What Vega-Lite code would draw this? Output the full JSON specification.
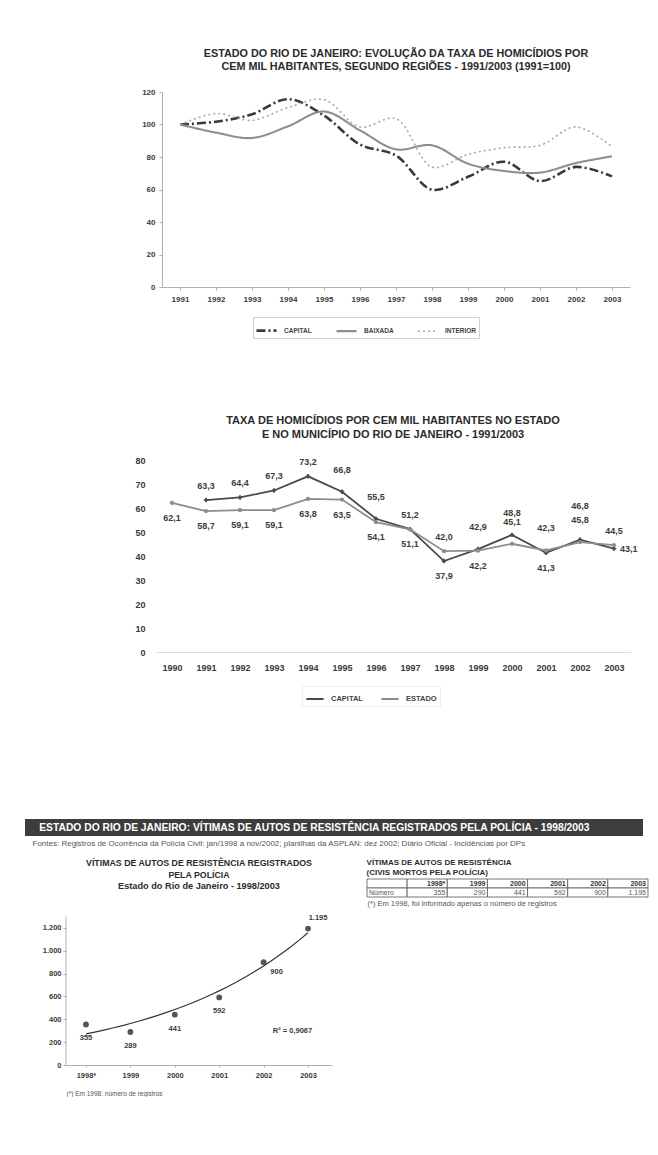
{
  "$schema": "https://vega.github.io/schema/vega-lite/v6.json",
  "padding": {"left": 25, "top": 48, "right": 0, "bottom": 0},
  "background": "white",
  "config": {
    "font": "Liberation Sans",
    "view": {"stroke": null},
    "locale": {"number": {"decimal": ",", "thousands": ".", "grouping": [3], "currency": ["R$", ""]}},
    "axis": {"labelFontWeight": "bold", "labelColor": "#3a3a3a", "grid": false, "domainColor": "#b0b0b0", "tickColor": "#b0b0b0", "titleFontWeight": "normal"},
    "title": {"fontWeight": "bold", "color": "#2b2b2b"}
  },
  "datasets": {
    "regioes": [
      {"regiao": "CAPITAL", "ano": 1991, "indice": 100},
      {"regiao": "CAPITAL", "ano": 1992, "indice": 101.7},
      {"regiao": "CAPITAL", "ano": 1993, "indice": 106.3},
      {"regiao": "CAPITAL", "ano": 1994, "indice": 115.6},
      {"regiao": "CAPITAL", "ano": 1995, "indice": 105.5},
      {"regiao": "CAPITAL", "ano": 1996, "indice": 87.7},
      {"regiao": "CAPITAL", "ano": 1997, "indice": 80.9},
      {"regiao": "CAPITAL", "ano": 1998, "indice": 59.9},
      {"regiao": "CAPITAL", "ano": 1999, "indice": 67.8},
      {"regiao": "CAPITAL", "ano": 2000, "indice": 77.1},
      {"regiao": "CAPITAL", "ano": 2001, "indice": 65.2},
      {"regiao": "CAPITAL", "ano": 2002, "indice": 73.9},
      {"regiao": "CAPITAL", "ano": 2003, "indice": 68.1},
      {"regiao": "BAIXADA", "ano": 1991, "indice": 100},
      {"regiao": "BAIXADA", "ano": 1992, "indice": 95},
      {"regiao": "BAIXADA", "ano": 1993, "indice": 91.7},
      {"regiao": "BAIXADA", "ano": 1994, "indice": 98.9},
      {"regiao": "BAIXADA", "ano": 1995, "indice": 108},
      {"regiao": "BAIXADA", "ano": 1996, "indice": 96.4},
      {"regiao": "BAIXADA", "ano": 1997, "indice": 84.7},
      {"regiao": "BAIXADA", "ano": 1998, "indice": 87.2},
      {"regiao": "BAIXADA", "ano": 1999, "indice": 75.9},
      {"regiao": "BAIXADA", "ano": 2000, "indice": 71.4},
      {"regiao": "BAIXADA", "ano": 2001, "indice": 70.4},
      {"regiao": "BAIXADA", "ano": 2002, "indice": 76.3},
      {"regiao": "BAIXADA", "ano": 2003, "indice": 80.4},
      {"regiao": "INTERIOR", "ano": 1991, "indice": 100},
      {"regiao": "INTERIOR", "ano": 1992, "indice": 106.7},
      {"regiao": "INTERIOR", "ano": 1993, "indice": 102.6},
      {"regiao": "INTERIOR", "ano": 1994, "indice": 110.4},
      {"regiao": "INTERIOR", "ano": 1995, "indice": 115.3},
      {"regiao": "INTERIOR", "ano": 1996, "indice": 98.5},
      {"regiao": "INTERIOR", "ano": 1997, "indice": 103.6},
      {"regiao": "INTERIOR", "ano": 1998, "indice": 73.8},
      {"regiao": "INTERIOR", "ano": 1999, "indice": 81.6},
      {"regiao": "INTERIOR", "ano": 2000, "indice": 85.7},
      {"regiao": "INTERIOR", "ano": 2001, "indice": 87.2},
      {"regiao": "INTERIOR", "ano": 2002, "indice": 98.5},
      {"regiao": "INTERIOR", "ano": 2003, "indice": 86.2}
    ],
    "taxas": [
      {"serie": "CAPITAL", "ano": 1991, "taxa": 63.3},
      {"serie": "CAPITAL", "ano": 1992, "taxa": 64.4},
      {"serie": "CAPITAL", "ano": 1993, "taxa": 67.3},
      {"serie": "CAPITAL", "ano": 1994, "taxa": 73.2},
      {"serie": "CAPITAL", "ano": 1995, "taxa": 66.8},
      {"serie": "CAPITAL", "ano": 1996, "taxa": 55.5},
      {"serie": "CAPITAL", "ano": 1997, "taxa": 51.2},
      {"serie": "CAPITAL", "ano": 1998, "taxa": 37.9},
      {"serie": "CAPITAL", "ano": 1999, "taxa": 42.9},
      {"serie": "CAPITAL", "ano": 2000, "taxa": 48.8},
      {"serie": "CAPITAL", "ano": 2001, "taxa": 41.3},
      {"serie": "CAPITAL", "ano": 2002, "taxa": 46.8},
      {"serie": "CAPITAL", "ano": 2003, "taxa": 43.1},
      {"serie": "ESTADO", "ano": 1990, "taxa": 62.1},
      {"serie": "ESTADO", "ano": 1991, "taxa": 58.7},
      {"serie": "ESTADO", "ano": 1992, "taxa": 59.1},
      {"serie": "ESTADO", "ano": 1993, "taxa": 59.1},
      {"serie": "ESTADO", "ano": 1994, "taxa": 63.8},
      {"serie": "ESTADO", "ano": 1995, "taxa": 63.5},
      {"serie": "ESTADO", "ano": 1996, "taxa": 54.1},
      {"serie": "ESTADO", "ano": 1997, "taxa": 51.1},
      {"serie": "ESTADO", "ano": 1998, "taxa": 42.0},
      {"serie": "ESTADO", "ano": 1999, "taxa": 42.2},
      {"serie": "ESTADO", "ano": 2000, "taxa": 45.1},
      {"serie": "ESTADO", "ano": 2001, "taxa": 42.3},
      {"serie": "ESTADO", "ano": 2002, "taxa": 45.8},
      {"serie": "ESTADO", "ano": 2003, "taxa": 44.5}
    ],
    "autos": [
      {"ano": 1998, "vitimas": 355},
      {"ano": 1999, "vitimas": 289},
      {"ano": 2000, "vitimas": 441},
      {"ano": 2001, "vitimas": 592},
      {"ano": 2002, "vitimas": 900},
      {"ano": 2003, "vitimas": 1195}
    ],
    "tabela": [
      {"coluna": "rotulo", "cabecalho": "", "valor": "Número"},
      {"coluna": "1998*", "cabecalho": "1998*", "valor": "355"},
      {"coluna": "1999", "cabecalho": "1999", "valor": "290"},
      {"coluna": "2000", "cabecalho": "2000", "valor": "441"},
      {"coluna": "2001", "cabecalho": "2001", "valor": "592"},
      {"coluna": "2002", "cabecalho": "2002", "valor": "900"},
      {"coluna": "2003", "cabecalho": "2003", "valor": "1.195"}
    ],
    "vazio": [{"espaco": 1}]
  },
  "resolve": {"scale": {"color": "independent", "strokeDash": "independent", "strokeWidth": "independent"}, "legend": {"color": "independent", "strokeDash": "independent", "strokeWidth": "independent"}},
  "spacing": 112,
  "vconcat": [
    {
      "spacing": 76,
      "resolve": {"scale": {"color": "independent", "strokeDash": "independent", "strokeWidth": "independent"}, "legend": {"color": "independent", "strokeDash": "independent", "strokeWidth": "independent"}},
      "vconcat": [
        {
          "spacing": 0,
          "resolve": {"scale": {"color": "independent", "strokeDash": "independent", "strokeWidth": "independent"}, "legend": {"color": "independent", "strokeDash": "independent", "strokeWidth": "independent"}},
          "hconcat": [
            {
              "width": 1, "height": 1,
              "data": {"name": "vazio"},
              "mark": {"type": "rect", "opacity": 0},
              "encoding": {
                "x": {"datum": 0, "type": "quantitative", "scale": {"domain": [0, 1]}, "axis": null},
                "x2": {"datum": 1},
                "y": {"datum": 0, "type": "quantitative", "scale": {"domain": [0, 1]}, "axis": null},
                "y2": {"datum": 1}
              }
            },
            {
              "width": 468,
              "height": 195,
              "title": {"text": ["ESTADO DO RIO DE JANEIRO: EVOLUÇÃO DA TAXA DE HOMICÍDIOS POR", "CEM MIL HABITANTES, SEGUNDO REGIÕES - 1991/2003 (1991=100)"], "fontSize": 10.8, "lineHeight": 13, "offset": 16, "anchor": "middle"},
              "data": {"name": "regioes"},
              "mark": {"type": "line", "interpolate": "catmull-rom"},
              "encoding": {
                "x": {"field": "ano", "type": "ordinal", "scale": {"type": "point", "padding": 0.5}, "axis": {"title": null, "labelAngle": 0, "labelFontSize": 8, "labelPadding": 5, "tickSize": 3}},
                "y": {"field": "indice", "type": "quantitative", "scale": {"domain": [0, 120], "nice": false}, "axis": {"title": null, "values": [0, 20, 40, 60, 80, 100, 120], "labelFontSize": 8, "tickSize": 3, "labelPadding": 4, "minExtent": 136}},
                "color": {"field": "regiao", "type": "nominal", "scale": {"domain": ["CAPITAL", "BAIXADA", "INTERIOR"], "range": ["#3a3a3a", "#8e8e8e", "#a8a8a8"]},
                  "legend": {"orient": "none", "legendX": 91, "legendY": 225, "direction": "horizontal", "title": null, "strokeColor": "#d0d0d0", "padding": 2, "labelFontSize": 6.5, "labelFontWeight": "bold", "labelColor": "#444", "symbolType": "stroke", "symbolSize": 400, "columnPadding": 20, "labelOffset": 6}},
                "strokeDash": {"field": "regiao", "type": "nominal", "scale": {"domain": ["CAPITAL", "BAIXADA", "INTERIOR"], "range": [[9, 3, 2, 3], [1, 0], [2, 3]]}},
                "strokeWidth": {"field": "regiao", "type": "nominal", "scale": {"domain": ["CAPITAL", "BAIXADA", "INTERIOR"], "range": [2.6, 1.6, 1.3]}}
              }
            }
          ]
        },
        {
          "spacing": 0,
          "resolve": {"scale": {"color": "independent"}, "legend": {"color": "independent"}},
          "hconcat": [
            {
              "width": 1, "height": 1,
              "data": {"name": "vazio"},
              "mark": {"type": "rect", "opacity": 0},
              "encoding": {
                "x": {"datum": 0, "type": "quantitative", "scale": {"domain": [0, 1]}, "axis": null},
                "x2": {"datum": 1},
                "y": {"datum": 0, "type": "quantitative", "scale": {"domain": [0, 1]}, "axis": null},
                "y2": {"datum": 1}
              }
            },
            {
              "width": 476,
              "height": 192,
              "title": {"text": ["TAXA DE HOMICÍDIOS POR CEM MIL HABITANTES NO ESTADO", "E NO MUNICÍPIO DO RIO DE JANEIRO - 1991/2003"], "fontSize": 11, "lineHeight": 14, "offset": 16, "anchor": "middle"},
              "data": {"name": "taxas"},
              "encoding": {
                "x": {"field": "ano", "type": "ordinal", "scale": {"type": "point", "padding": 0.5}, "axis": {"title": null, "labelAngle": 0, "labelFontSize": 9, "labelPadding": 11, "ticks": false, "domainColor": "#dddddd"}},
                "y": {"field": "taxa", "type": "quantitative", "scale": {"domain": [0, 80], "nice": false}, "axis": {"title": null, "values": [0, 10, 20, 30, 40, 50, 60, 70, 80], "labelFontSize": 9, "ticks": false, "domain": false, "labelPadding": 10, "minExtent": 129}},
                "color": {"field": "serie", "type": "nominal", "scale": {"domain": ["CAPITAL", "ESTADO"], "range": ["#4a4a4a", "#8c8c8c"]},
                  "legend": {"orient": "none", "legendX": 147, "legendY": 226, "direction": "horizontal", "title": null, "strokeColor": "#eeeeee", "padding": 3, "labelFontSize": 7.5, "labelFontWeight": "bold", "labelColor": "#444", "symbolType": "stroke", "symbolSize": 300, "symbolStrokeWidth": 2, "columnPadding": 14, "labelOffset": 6}}
              },
              "layer": [
                {"mark": {"type": "line", "strokeWidth": 1.8}},
                {"transform": [{"filter": "datum.serie == 'CAPITAL'"}], "mark": {"type": "point", "shape": "cross", "filled": true, "opacity": 1, "size": 20}},
                {"transform": [{"filter": "datum.serie == 'ESTADO'"}], "mark": {"type": "point", "shape": "circle", "filled": true, "opacity": 1, "size": 18}},
                {"transform": [{"filter": "(datum.serie == 'ESTADO' && indexof([1990,1991,1992,1993,1994,1995,1996,1997,1999], datum.ano) >= 0) || (datum.serie == 'CAPITAL' && indexof([1998,2001], datum.ano) >= 0)"}],
                  "mark": {"type": "text", "fontSize": 9, "fontWeight": "bold", "dy": 15},
                  "encoding": {"text": {"field": "taxa", "type": "quantitative", "format": ".1f"}, "color": {"value": "#3d3d3d"}}},
                {"transform": [{"filter": "(datum.serie == 'CAPITAL' && indexof([1991,1992,1993,1994,1997], datum.ano) >= 0) || (datum.serie == 'ESTADO' && indexof([1998,2003], datum.ano) >= 0)"}],
                  "mark": {"type": "text", "fontSize": 9, "fontWeight": "bold", "dy": -14},
                  "encoding": {"text": {"field": "taxa", "type": "quantitative", "format": ".1f"}, "color": {"value": "#3d3d3d"}}},
                {"transform": [{"filter": "(datum.serie == 'CAPITAL' && indexof([1995,1996,1999,2000], datum.ano) >= 0) || (datum.serie == 'ESTADO' && indexof([2000,2001,2002], datum.ano) >= 0)"}],
                  "mark": {"type": "text", "fontSize": 9, "fontWeight": "bold", "dy": -22},
                  "encoding": {"text": {"field": "taxa", "type": "quantitative", "format": ".1f"}, "color": {"value": "#3d3d3d"}}},
                {"transform": [{"filter": "datum.serie == 'CAPITAL' && datum.ano == 2002"}],
                  "mark": {"type": "text", "fontSize": 9, "fontWeight": "bold", "dy": -34},
                  "encoding": {"text": {"field": "taxa", "type": "quantitative", "format": ".1f"}, "color": {"value": "#3d3d3d"}}},
                {"transform": [{"filter": "datum.serie == 'CAPITAL' && datum.ano == 2003"}],
                  "mark": {"type": "text", "fontSize": 9, "fontWeight": "bold", "align": "left", "dx": 6},
                  "encoding": {"text": {"field": "taxa", "type": "quantitative", "format": ".1f"}, "color": {"value": "#3d3d3d"}}}
              ]
            }
          ]
        }
      ]
    },
    {
      "spacing": 11,
      "vconcat": [
        {
          "width": 618,
          "height": 17,
          "data": {"values": [{"titulo": "ESTADO DO RIO DE JANEIRO: VÍTIMAS DE AUTOS DE RESISTÊNCIA REGISTRADOS PELA POLÍCIA - 1998/2003"}]},
          "layer": [
            {"mark": {"type": "rect", "color": "#3d3d3d"},
              "encoding": {
                "x": {"datum": 0, "type": "quantitative", "scale": {"domain": [0, 1], "nice": false}, "axis": {"labels": false, "ticks": false, "domain": false, "grid": false, "title": "Fontes: Registros de Ocorrência da Polícia Civil: jan/1998 a nov/2002; planilhas da ASPLAN: dez 2002; Diário Oficial - Incidências por DPs", "titleAnchor": "start", "titleFontSize": 8, "titleColor": "#555", "titlePadding": 3, "titleX": 7, "titleAlign": "left"}},
                "x2": {"datum": 1},
                "y": {"datum": 0, "type": "quantitative", "scale": {"domain": [0, 1], "nice": false}, "axis": null},
                "y2": {"datum": 1}
              }},
            {"mark": {"type": "text", "align": "left", "baseline": "middle", "color": "white", "fontWeight": "bold", "fontSize": 10.3},
              "encoding": {
                "x": {"datum": 0.023, "type": "quantitative"},
                "y": {"datum": 0.5, "type": "quantitative"},
                "text": {"field": "titulo"}
              }}
          ]
        },
        {
          "spacing": 0,
          "hconcat": [
            {
              "width": 1, "height": 1,
              "data": {"name": "vazio"},
              "mark": {"type": "rect", "opacity": 0},
              "encoding": {
                "x": {"datum": 0, "type": "quantitative", "scale": {"domain": [0, 1]}, "axis": null},
                "x2": {"datum": 1},
                "y": {"datum": 0, "type": "quantitative", "scale": {"domain": [0, 1]}, "axis": null},
                "y2": {"datum": 1}
              }
            },
            {
              "width": 266,
              "height": 186,
              "title": {"text": ["VÍTIMAS DE AUTOS DE RESISTÊNCIA REGISTRADOS", "PELA POLÍCIA"], "subtitle": "Estado do Rio de Janeiro - 1998/2003", "fontSize": 8.8, "lineHeight": 12, "subtitleFontSize": 9.2, "subtitleFontWeight": "bold", "subtitleColor": "#2b2b2b", "subtitlePadding": 2, "offset": -12, "anchor": "middle"},
              "data": {"name": "autos"},
              "encoding": {
                "x": {"field": "ano", "type": "quantitative", "scale": {"domain": [1997.55, 2003.54], "nice": false, "zero": false},
                  "axis": {"values": [1998, 1999, 2000, 2001, 2002, 2003], "format": "d", "labelExpr": "datum.value == 1998 ? '1998*' : datum.label", "labelFontSize": 7.5, "tickSize": 2, "labelPadding": 4, "title": "(*) Em 1998: número de registros", "titleAnchor": "start", "titleFontSize": 6.5, "titleColor": "#555", "titlePadding": 12}},
                "y": {"field": "vitimas", "type": "quantitative", "scale": {"domain": [0, 1629], "nice": false},
                  "axis": {"title": null, "values": [0, 200, 400, 600, 800, 1000, 1200], "format": ",.0f", "labelFontSize": 7.5, "tickSize": 3, "labelPadding": 2, "domain": false, "minExtent": 40}}
              },
              "layer": [
                {"transform": [{"filter": "datum.ano == 2003"}], "mark": {"type": "rule", "color": "#b0b0b0", "strokeWidth": 1},
                  "encoding": {"x": {"datum": 1997.55, "type": "quantitative"}, "y": {"datum": 0, "type": "quantitative"}, "y2": {"datum": 1300}}},
                {"transform": [{"regression": "vitimas", "on": "ano", "method": "exp"}], "mark": {"type": "line", "color": "#333333", "strokeWidth": 1.2}},
                {"mark": {"type": "circle", "size": 34, "color": "#555555", "opacity": 1}},
                {"transform": [{"filter": "datum.ano <= 2001"}], "mark": {"type": "text", "fontSize": 7.5, "fontWeight": "bold", "color": "#3a3a3a", "dy": 14}, "encoding": {"text": {"field": "vitimas", "type": "quantitative", "format": ",.0f"}}},
                {"transform": [{"filter": "datum.ano == 2002"}], "mark": {"type": "text", "fontSize": 7.5, "fontWeight": "bold", "color": "#3a3a3a", "dx": 13, "dy": 10}, "encoding": {"text": {"field": "vitimas", "type": "quantitative", "format": ",.0f"}}},
                {"transform": [{"filter": "datum.ano == 2003"}], "mark": {"type": "text", "fontSize": 7.5, "fontWeight": "bold", "color": "#3a3a3a", "dx": 10, "dy": -11}, "encoding": {"text": {"field": "vitimas", "type": "quantitative", "format": ",.0f"}}},
                {"transform": [{"filter": "datum.ano == 2003"}], "mark": {"type": "text", "fontSize": 7.5, "fontWeight": "bold", "color": "#3a3a3a"},
                  "encoding": {"x": {"datum": 2002.65, "type": "quantitative"}, "y": {"datum": 300, "type": "quantitative"}, "text": {"value": "R² = 0,9067"}}}
              ]
            },
            {
              "width": 34, "height": 1,
              "data": {"name": "vazio"},
              "mark": {"type": "rect", "opacity": 0},
              "encoding": {
                "x": {"datum": 0, "type": "quantitative", "scale": {"domain": [0, 1]}, "axis": null},
                "x2": {"datum": 1},
                "y": {"datum": 0, "type": "quantitative", "scale": {"domain": [0, 1]}, "axis": null},
                "y2": {"datum": 1}
              }
            },
            {
              "width": 281,
              "height": 18,
              "title": {"text": ["VÍTIMAS DE AUTOS DE RESISTÊNCIA", "(CIVIS MORTOS PELA POLÍCIA)"], "anchor": "start", "fontSize": 8, "lineHeight": 10, "offset": 2},
              "data": {"name": "tabela"},
              "transform": [{"fold": ["cabecalho", "valor"], "as": ["linha", "texto"]}],
              "encoding": {
                "x": {"field": "coluna", "type": "nominal", "sort": null, "scale": {"paddingInner": 0, "paddingOuter": 0},
                  "axis": {"labels": false, "ticks": false, "domain": false, "title": "(*) Em 1998, foi informado apenas o número de registros", "titleAnchor": "start", "titleFontSize": 7.5, "titleColor": "#555", "titlePadding": 2}},
                "y": {"field": "linha", "type": "nominal", "sort": ["cabecalho", "valor"], "scale": {"paddingInner": 0, "paddingOuter": 0}, "axis": null}
              },
              "layer": [
                {"mark": {"type": "rect", "fill": "white", "stroke": "#555555", "strokeWidth": 0.8}},
                {"transform": [{"filter": "datum.linha == 'cabecalho'"}], "mark": {"type": "text", "align": "right", "fontWeight": "bold", "fontSize": 7, "color": "#333", "dx": -2},
                  "encoding": {"x": {"field": "coluna", "type": "nominal", "sort": null, "bandPosition": 1}, "text": {"field": "texto"}}},
                {"transform": [{"filter": "datum.linha == 'valor' && datum.coluna != 'rotulo'"}], "mark": {"type": "text", "align": "right", "fontSize": 7, "color": "#555", "dx": -2},
                  "encoding": {"x": {"field": "coluna", "type": "nominal", "sort": null, "bandPosition": 1}, "text": {"field": "texto"}}},
                {"transform": [{"filter": "datum.linha == 'valor' && datum.coluna == 'rotulo'"}], "mark": {"type": "text", "align": "left", "fontSize": 7, "color": "#555", "dx": 2},
                  "encoding": {"x": {"field": "coluna", "type": "nominal", "sort": null, "bandPosition": 0}, "text": {"field": "texto"}}}
              ]
            }
          ]
        }
      ]
    }
  ]
}
